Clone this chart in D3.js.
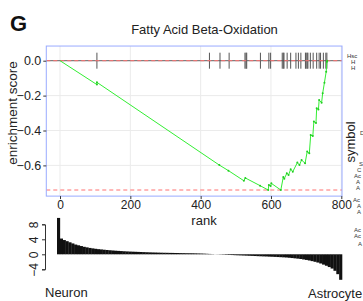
<!DOCTYPE html>
<html><head><meta charset="utf-8">
<script src="https://cdn.jsdelivr.net/npm/d3@7"></script>
<style>html,body{margin:0;padding:0;background:#fff;}svg{display:block;font-family:"Liberation Sans",Arial,sans-serif;}</style>
</head><body>
<script>
// ---- data ----
const panelLabel = "G";
const title = "Fatty Acid Beta-Oxidation";
const xTicks = [0, 200, 400, 600, 800];
const yTicks = [0, -0.2, -0.4, -0.6];
const yTickLabels = ["0.0", "\u22120.2", "\u22120.4", "\u22120.6"];
const esMin = -0.741;
const curveRank = [0,105,105,453,479,523,527,569,592,594,599,601,628,635,638,645,650,656,662,675,681,687,697,703,709,713,719,722,728,730,735,737,744,747,752,757,759,760];
const curveES = [0,-0.137,-0.124,-0.598,-0.630,-0.688,-0.672,-0.716,-0.741,-0.712,-0.718,-0.703,-0.741,-0.667,-0.676,-0.645,-0.655,-0.622,-0.636,-0.584,-0.598,-0.569,-0.588,-0.521,-0.531,-0.426,-0.432,-0.349,-0.357,-0.273,-0.280,-0.225,-0.241,-0.187,-0.126,-0.063,-0.006,0];
const hitRanks = [105,425,455,481,526,529,531,570,594,599,632,635,637,646,656,671,678,685,698,700,703,705,712,720,730,737,741,749,756,759];
const metricStep = 8;
const metricValues = [9.7,4.2,3.8,3.5,3.2,2.9,2.6,2.4,2.2,2.0,
1.85,1.7,1.58,1.47,1.37,1.3,1.22,1.15,1.08,1.02,
0.96,0.91,0.86,0.81,0.77,0.73,0.70,0.67,0.64,0.61,
0.58,0.55,0.52,0.49,0.47,0.45,0.43,0.41,0.40,0.38,
0.37,0.35,0.34,0.32,0.31,0.29,0.28,0.27,0.25,0.23,
0.21,0.18,0.14,0.10,0.06,0.02,-0.04,-0.07,-0.10,-0.14,
-0.17,-0.20,-0.24,-0.27,-0.30,-0.33,-0.36,-0.39,-0.42,-0.46,
-0.50,-0.53,-0.56,-0.58,-0.62,-0.65,-0.69,-0.73,-0.77,-0.81,
-0.85,-0.92,-1.0,-1.08,-1.16,-1.25,-1.38,-1.5,-1.65,-1.82,
-2.0,-2.2,-2.45,-2.75,-3.05,-3.4,-3.8,-4.4,-5.3,-6.8];
const barTicks = [8, 4, 0, -4];
const barTickLabels = ["8", "4", "0", "\u22124"];
const leftLabel = "Neuron", rightLabel = "Astrocyte";
const sideLabels = ["Hsc","H","H","D","S","C","Ac","A","A","Ac","A","A","Ac","Ac","A"];

// ---- drawing ----
const W = 363, H = 301;
const svg = d3.select("body").append("svg").attr("width", W).attr("height", H);

const x = d3.scaleLinear().domain([0, 800]).range([60, 341.3]);
const y = d3.scaleLinear().domain([0, -0.6]).range([60.7, 165.4]);
const pL = x(-39), pR = x(802), pT = y(0.084), pB = y(-0.776);

const g = svg.append("g");
g.selectAll("line.vg").data(xTicks).join("line")
  .attr("x1", d => x(d)).attr("x2", d => x(d)).attr("y1", pT).attr("y2", pB)
  .attr("stroke", "#ebebeb").attr("stroke-width", 1);
g.selectAll("line.hg").data(yTicks).join("line")
  .attr("x1", pL).attr("x2", pR).attr("y1", d => y(d)).attr("y2", d => y(d))
  .attr("stroke", "#ebebeb").attr("stroke-width", 1);

// zero line
g.append("line").attr("x1", pL).attr("x2", pR).attr("y1", y(0)).attr("y2", y(0))
  .attr("stroke", "#666").attr("stroke-width", 1);

// hit ticks
g.selectAll("line.hit").data(hitRanks).join("line")
  .attr("x1", d => x(d)).attr("x2", d => x(d)).attr("y1", y(0) - 8).attr("y2", y(0) + 8)
  .attr("stroke", "#555").attr("stroke-width", 1);

// red dashed lines
[0, esMin].forEach(v => {
  g.append("line").attr("x1", pL).attr("x2", pR).attr("y1", y(v)).attr("y2", y(v))
    .attr("stroke", "#ff7070").attr("stroke-width", 1).attr("stroke-dasharray", "4,3");
});

// ES curve
const pts = curveRank.map((r, i) => [r, curveES[i]]);
g.append("path").datum(pts)
  .attr("d", d3.line().x(d => x(d[0])).y(d => y(d[1])))
  .attr("fill", "none").attr("stroke", "#33ee33").attr("stroke-width", 1);
g.selectAll("circle").data(pts.slice(1)).join("circle")
  .attr("cx", d => x(d[0])).attr("cy", d => y(d[1])).attr("r", 1)
  .attr("fill", "#22cc22");

// panel border
g.append("rect").attr("x", pL).attr("y", pT).attr("width", pR - pL).attr("height", pB - pT)
  .attr("fill", "none").attr("stroke", "#99aaff").attr("stroke-width", 1);

// axes
const xAxis = d3.axisBottom(x).tickValues(xTicks).tickSize(3).tickPadding(1.5).tickFormat(d3.format("d"));
const xa = svg.append("g").attr("transform", `translate(0,${pB})`).call(xAxis);
xa.select(".domain").remove();
xa.selectAll("line").attr("stroke", "#333");
xa.selectAll("text").attr("font-size", 12).attr("fill", "#222").attr("font-family", "Liberation Sans, Arial, sans-serif");

const yAxis = d3.axisLeft(y).tickValues(yTicks).tickSize(3).tickPadding(2).tickFormat((d, i) => yTickLabels[i]);
const ya = svg.append("g").attr("transform", `translate(${pL},0)`).call(yAxis);
ya.select(".domain").remove();
ya.selectAll("line").attr("stroke", "#333");
ya.selectAll("text").attr("font-size", 12.5).attr("fill", "#222").attr("font-family", "Liberation Sans, Arial, sans-serif");

// titles
svg.append("text").attr("x", 10).attr("y", 31).attr("font-size", 22).attr("font-weight", "bold").attr("fill", "#111").text(panelLabel);
svg.append("text").attr("x", 204.5).attr("y", 34).attr("text-anchor", "middle").attr("font-size", 13).attr("fill", "#222").text(title);
svg.append("text").attr("x", 204).attr("y", 225).attr("text-anchor", "middle").attr("font-size", 13).attr("fill", "#222").text("rank");
svg.append("text").attr("transform", "translate(17,113) rotate(-90)").attr("text-anchor", "middle").attr("font-size", 13.5).attr("fill", "#222").text("enrichment score");

// bottom metric bars
const bx = d3.scaleLinear().domain([0, 800]).range([57, 342]);
const by = d3.scaleLinear().domain([-4, 8]).range([269.3, 224.3]);
const bars = metricValues.map((v, i) => ({ r: i * metricStep, v }));
svg.append("g").selectAll("rect").data(bars).join("rect")
  .attr("x", d => bx(d.r))
  .attr("width", bx(metricStep) - bx(0) + 0.3)
  .attr("y", d => by(Math.max(0, d.v)))
  .attr("height", d => Math.abs(by(d.v) - by(0)))
  .attr("fill", "#111");

const bAxis = d3.axisLeft(by).tickValues(barTicks).tickSize(3).tickPadding(1).tickFormat((d, i) => barTickLabels[i]);
const ba = svg.append("g").attr("transform", "translate(45,0)").call(bAxis);
ba.select(".domain").attr("stroke", "#333");
ba.selectAll("line").attr("stroke", "#333");
ba.selectAll("text").attr("font-size", 12).attr("fill", "#222").attr("font-family", "Liberation Sans, Arial, sans-serif")
  .attr("text-anchor", "middle").attr("dy", 0).attr("x", 0)
  .attr("transform", "translate(-7,0) rotate(-90)");

svg.append("text").attr("x", 45).attr("y", 297).attr("font-size", 13).attr("fill", "#222").text(leftLabel);
svg.append("text").attr("x", 308).attr("y", 298).attr("font-size", 13).attr("fill", "#222").text(rightLabel);

// side cut-off labels from neighbouring panel
svg.append("text").attr("transform", "translate(355,142) rotate(-90)").attr("text-anchor", "middle").attr("font-size", 13).attr("fill", "#222").text("symbol");
const sidePos = [[347,58],[351,64],[351,70],[360,135],[359,166],[357,172],[354,178],[356,184],[356,190],[353,202],[357,208],[357,214],[354,232],[354,238],[358,246]];
svg.append("g").selectAll("text").data(sideLabels).join("text")
  .attr("x", (d, i) => sidePos[i][0]).attr("y", (d, i) => sidePos[i][1])
  .attr("font-size", 6).attr("fill", "#333").text(d => d);
</script>
</body></html>
